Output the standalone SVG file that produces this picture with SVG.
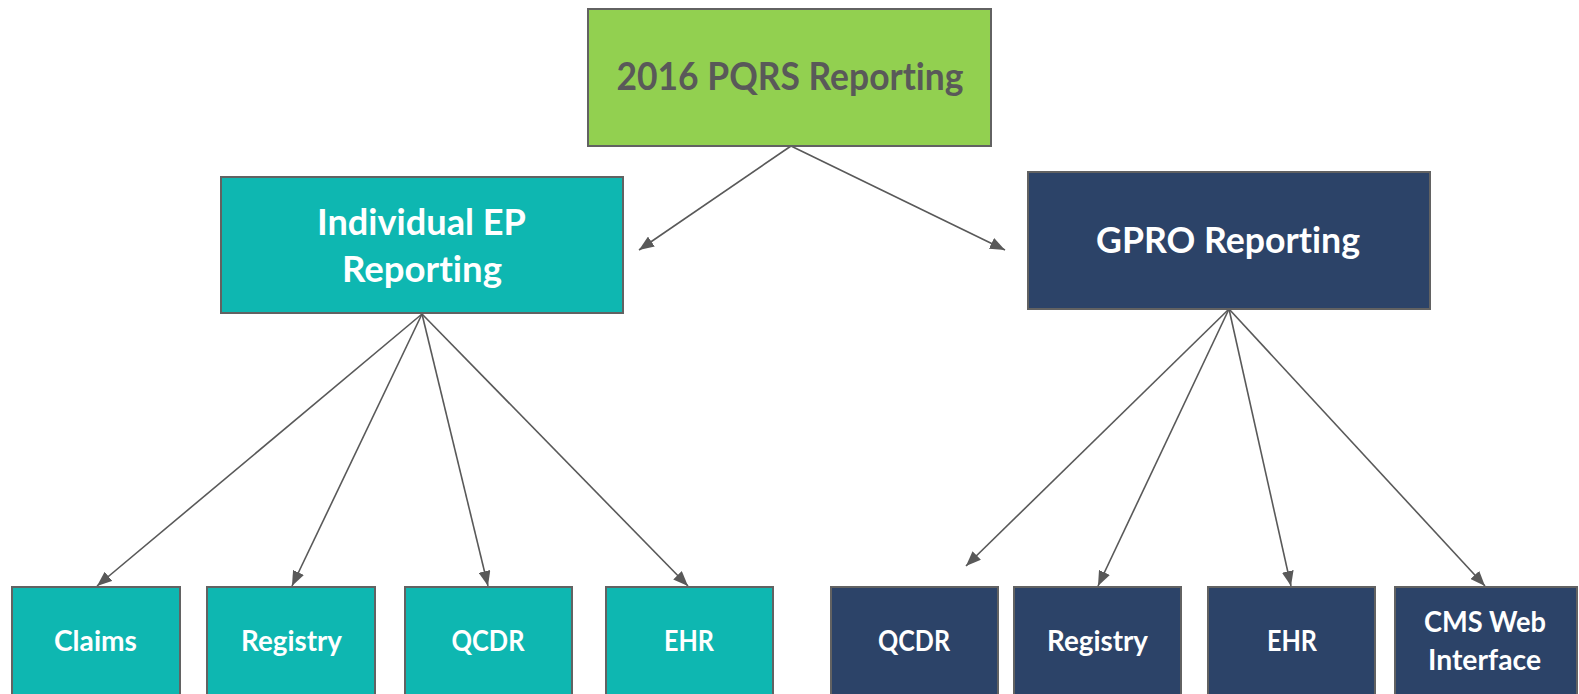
<svg xmlns="http://www.w3.org/2000/svg" width="1579" height="694" viewBox="0 0 1579 694">
<style>
.box{stroke:#626262;stroke-width:2}
.green{fill:#92D050}
.teal{fill:#0EB7B1}
.navy{fill:#2C4368}
.t{font-family:Lato,"Open Sans","Liberation Sans",sans-serif;font-weight:bold;text-anchor:middle;font-variant-ligatures:none}
.dark{fill:#595959}
.white{fill:#FFFFFF}
.conn{stroke:#595959;stroke-width:1.6;fill:none;marker-end:url(#arr)}
</style>
<defs>
<marker id="arr" markerUnits="userSpaceOnUse" markerWidth="15" markerHeight="12" refX="15" refY="6" orient="auto">
<path d="M0,0 L15,6 L0,12 z" fill="#595959"/>
</marker>
</defs>
<rect width="1579" height="694" fill="#FFFFFF"/>
<g id="connectors">
<line class="conn" x1="791" y1="146" x2="639" y2="250"/>
<line class="conn" x1="791" y1="146" x2="1005" y2="250"/>
<line class="conn" x1="422" y1="314" x2="97" y2="586"/>
<line class="conn" x1="422" y1="314" x2="292" y2="586"/>
<line class="conn" x1="422" y1="314" x2="488" y2="586"/>
<line class="conn" x1="422" y1="314" x2="688" y2="586"/>
<line class="conn" x1="1229" y1="309" x2="966" y2="566"/>
<line class="conn" x1="1229" y1="309" x2="1098" y2="586"/>
<line class="conn" x1="1229" y1="309" x2="1291" y2="586"/>
<line class="conn" x1="1229" y1="309" x2="1485" y2="586"/>
</g>
<g id="root">
<rect class="box green" x="588" y="9" width="403" height="137"/>
<text class="t dark" x="790" y="90" font-size="38" textLength="347" lengthAdjust="spacingAndGlyphs">2016 PQRS Reporting</text>
</g>
<g id="individual">
<rect class="box teal" x="221" y="177" width="402" height="136"/>
<text class="t white" x="421.5" y="235" font-size="36" textLength="209" lengthAdjust="spacingAndGlyphs">Individual EP</text>
<text class="t white" x="422" y="282" font-size="36" textLength="160" lengthAdjust="spacingAndGlyphs">Reporting</text>
</g>
<g id="gpro">
<rect class="box navy" x="1028" y="172" width="402" height="137"/>
<text class="t white" x="1228" y="253" font-size="36" textLength="264" lengthAdjust="spacingAndGlyphs">GPRO Reporting</text>
</g>
<g id="ind-claims">
<rect class="box teal" x="12" y="587" width="168" height="112"/>
<text class="t white" x="95.5" y="651" font-size="28" textLength="83" lengthAdjust="spacingAndGlyphs">Claims</text>
</g>
<g id="ind-registry">
<rect class="box teal" x="207" y="587" width="168" height="112"/>
<text class="t white" x="291.5" y="651" font-size="28" textLength="101" lengthAdjust="spacingAndGlyphs">Registry</text>
</g>
<g id="ind-qcdr">
<rect class="box teal" x="405" y="587" width="167" height="112"/>
<text class="t white" x="488" y="651" font-size="28" textLength="73" lengthAdjust="spacingAndGlyphs">QCDR</text>
</g>
<g id="ind-ehr">
<rect class="box teal" x="606" y="587" width="167" height="112"/>
<text class="t white" x="689" y="651" font-size="28" textLength="50" lengthAdjust="spacingAndGlyphs">EHR</text>
</g>
<g id="gpro-qcdr">
<rect class="box navy" x="831" y="587" width="167" height="112"/>
<text class="t white" x="914" y="651" font-size="28" textLength="72" lengthAdjust="spacingAndGlyphs">QCDR</text>
</g>
<g id="gpro-registry">
<rect class="box navy" x="1014" y="587" width="167" height="112"/>
<text class="t white" x="1097.5" y="651" font-size="28" textLength="101" lengthAdjust="spacingAndGlyphs">Registry</text>
</g>
<g id="gpro-ehr">
<rect class="box navy" x="1208" y="587" width="167" height="112"/>
<text class="t white" x="1292" y="651" font-size="28" textLength="50" lengthAdjust="spacingAndGlyphs">EHR</text>
</g>
<g id="gpro-cms">
<rect class="box navy" x="1395" y="587" width="182" height="112"/>
<text class="t white" x="1485" y="632" font-size="28" textLength="122" lengthAdjust="spacingAndGlyphs">CMS Web</text>
<text class="t white" x="1484.5" y="670" font-size="28" textLength="113" lengthAdjust="spacingAndGlyphs">Interface</text>
</g>
</svg>
